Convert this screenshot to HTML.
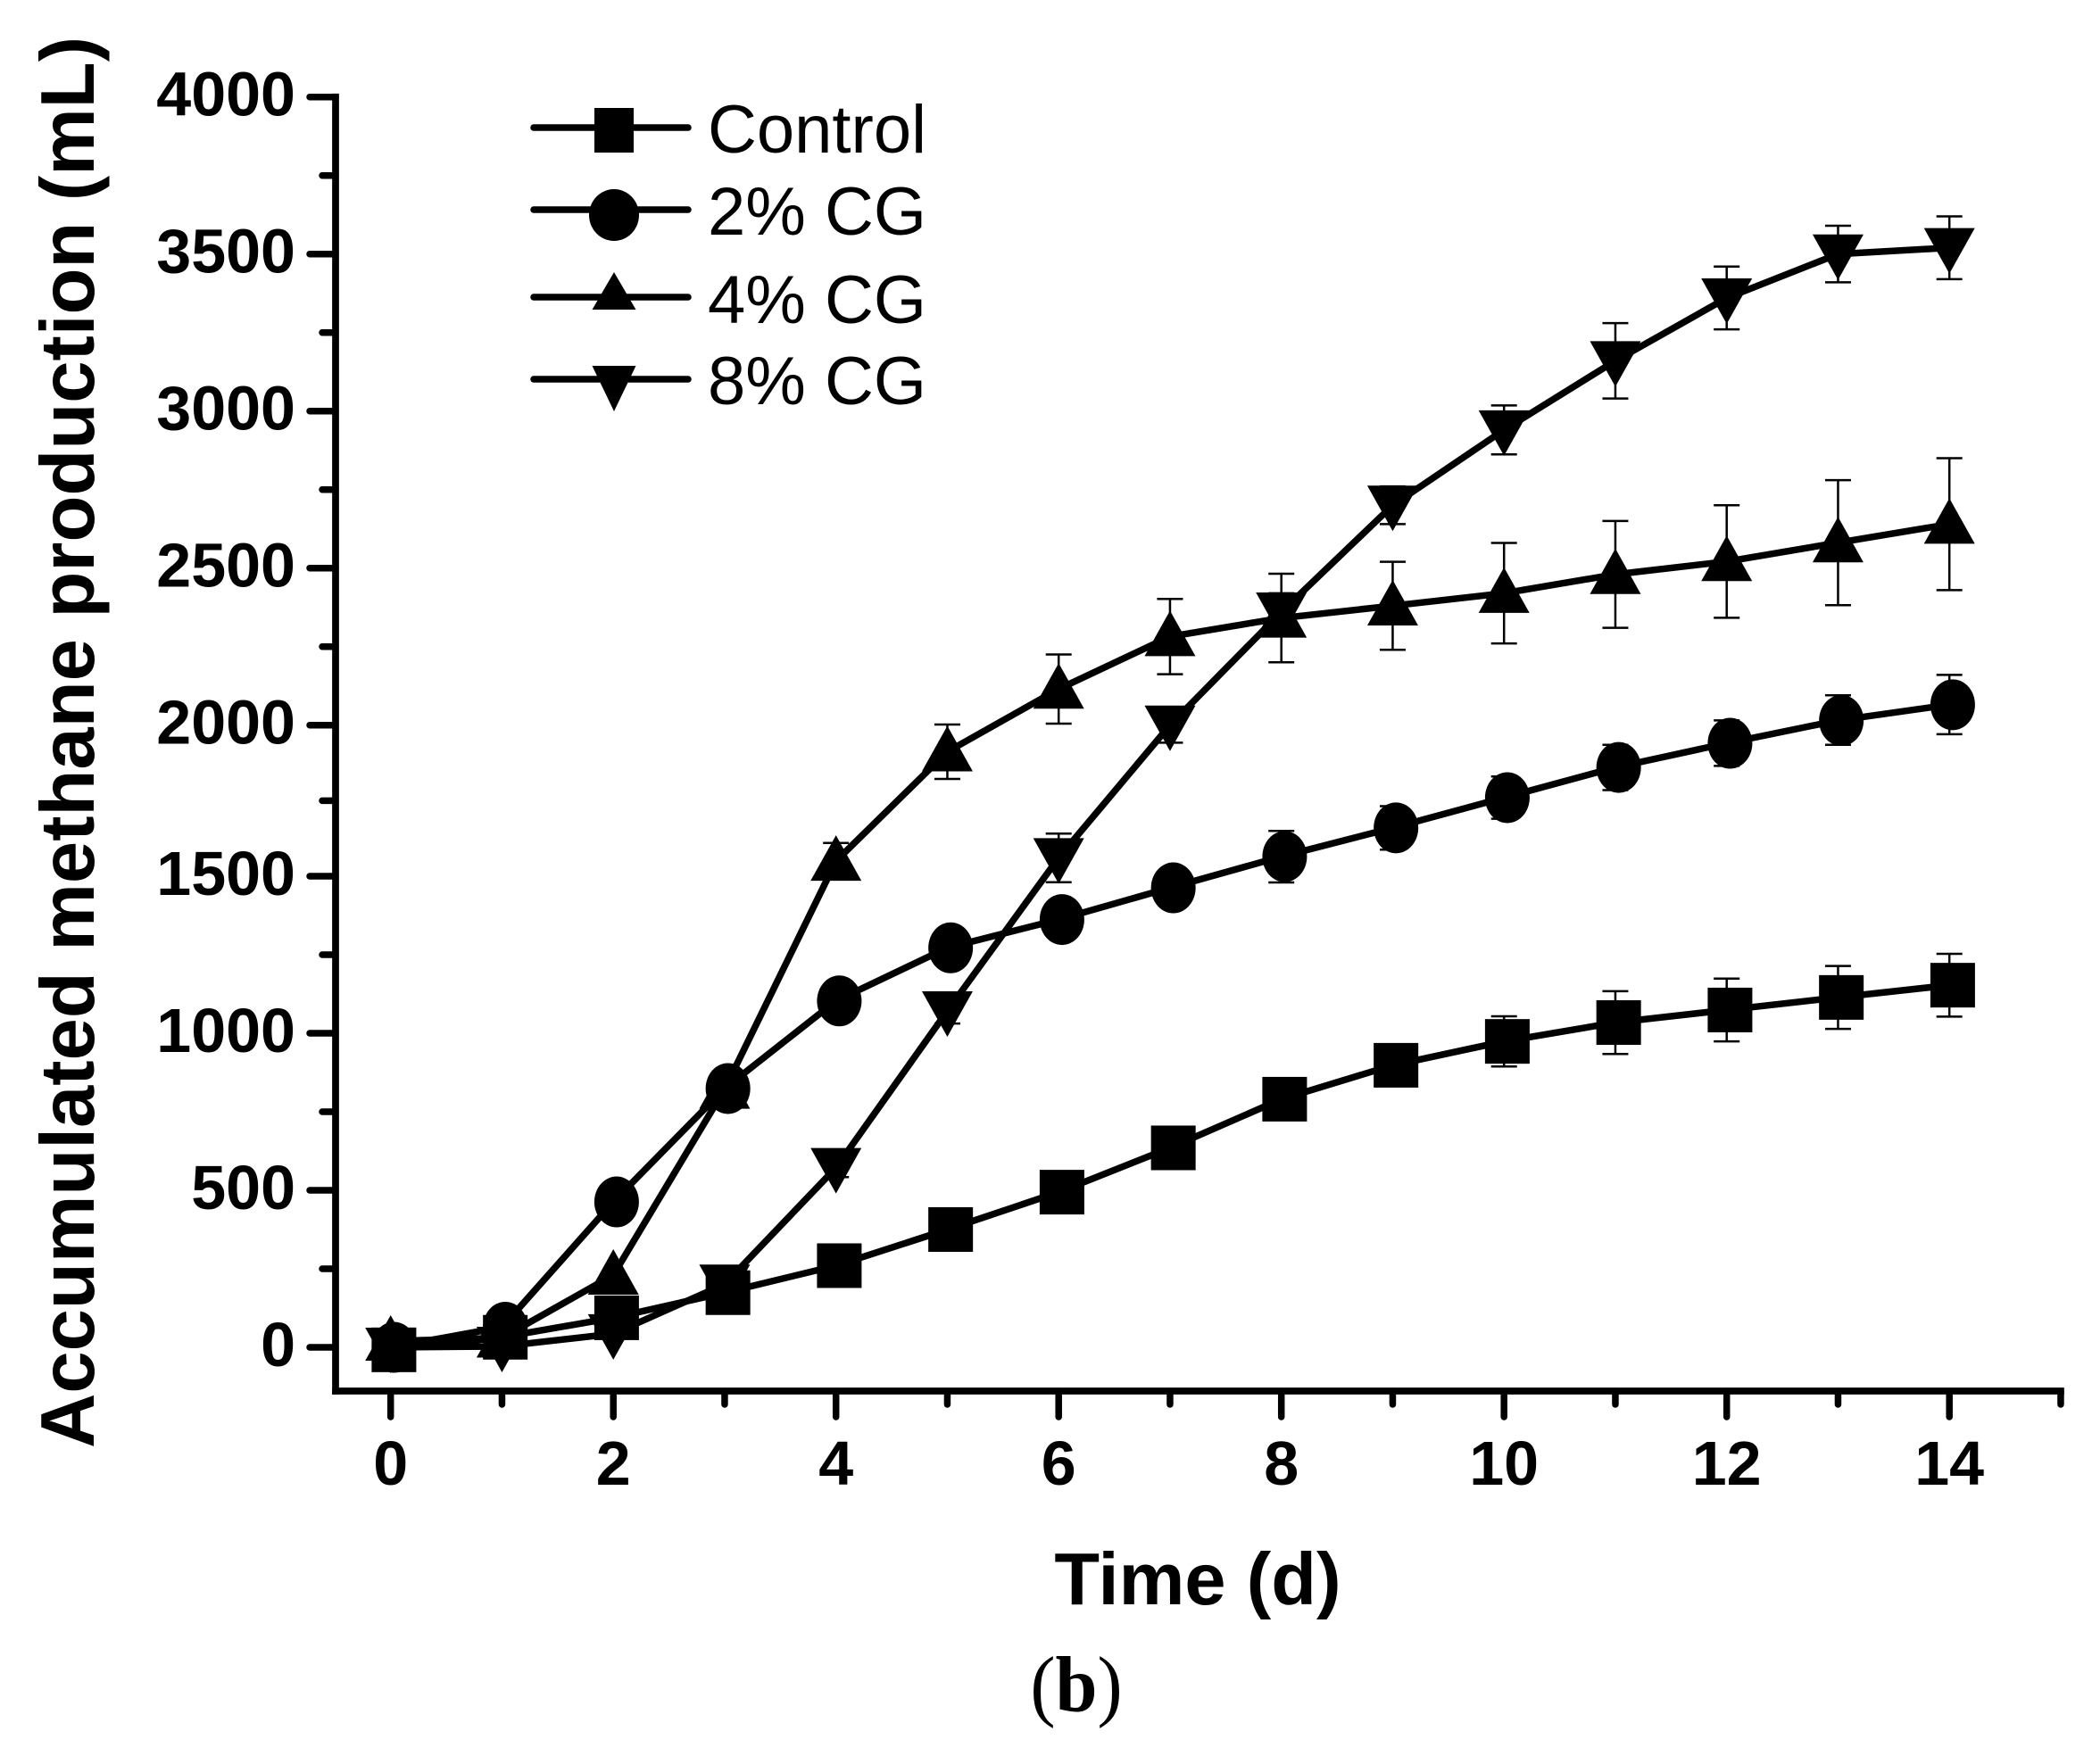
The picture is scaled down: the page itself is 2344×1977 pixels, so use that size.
<!DOCTYPE html>
<html lang="en">
<head>
<meta charset="utf-8">
<title>Accumulated methane production</title>
<style>
html,body{margin:0;padding:0;background:#fff;}
svg{display:block;}
text{fill:#000;font-family:"Liberation Sans",sans-serif;}
</style>
</head>
<body>
<svg id="chart" xmlns="http://www.w3.org/2000/svg" width="2344" height="1977" viewBox="0 0 2344 1977">
  <rect x="0" y="0" width="2344" height="1977" fill="#fff"/>
  <g id="axes"></g>
  <g id="plot"></g>
  <g id="legend"></g>
  <text transform="translate(105,832) rotate(-90)" text-anchor="middle" font-size="85" font-weight="700">Accumulated methane production (mL)</text>
  <text x="1342" y="1798" text-anchor="middle" font-size="83" font-weight="700">Time (d)</text>
  <text transform="translate(1206,1918) scale(0.95,1)" text-anchor="middle" font-size="89" style="font-family:'Liberation Serif',serif">(<tspan font-weight="700">b</tspan>)</text>
</svg>
<script>
const days = [0,1,2,3,4,5,6,7,8,9,10,11,12,13,14];
const xTickLabels = [0,2,4,6,8,10,12,14];
const yTickLabels = [0,500,1000,1500,2000,2500,3000,3500,4000];
const legendLabels = ['Control','2% CG','4% CG','8% CG'];

const controlValues = [-8,32,94,174,260,375,494,635,790,898,974,1034,1074,1114,1153];
const cg2Values = [0,64,463,824,1103,1272,1362,1463,1565,1660,1760,1860,1940,2015,2065];
const cg4Values = [20,30,230,822,1550,1912,2115,2282,2341,2380,2420,2480,2521,2581,2640];
const cg8Values = [0,3,43,201,572,1071,1561,2000,2360,2700,2940,3160,3360,3500,3520];

const controlErrors = [0,0,0,0,0,0,0,30,30,50,80,100,100,100,100];
const cg2Errors = [0,0,0,0,0,0,0,40,85,72,70,75,75,80,95];
const cg4Errors = [0,0,0,0,60,90,110,120,141,140,160,170,179,199,210];
const cg8Errors = [0,0,0,0,30,40,80,58,60,60,78,120,100,90,100];

const NS = 'http://www.w3.org/2000/svg';
const axX = 376, axY = 1559;
function xScale(d){ return 437.7 + d * 124.75; }
function yScale(v){
  const ramp = Math.max(0, Math.min(1, (v - 1500) / 500));
  return 1510 - v * 0.352 + 6.7 * ramp;
}

function make(tag, attrs, parent){
  const el = document.createElementNS(NS, tag);
  for (const k in attrs) el.setAttribute(k, attrs[k]);
  parent.appendChild(el);
  return el;
}

function marker(kind, cx, cy, parent){
  if (kind === 'square') {
    return make('rect', {x: cx + 3.7 - 25, y: cy - 25, width: 50, height: 50, fill: '#000'}, parent);
  }
  if (kind === 'circle') {
    return make('ellipse', {cx: cx + 3.7, cy: cy, rx: 25, ry: 28.5, fill: '#000'}, parent);
  }
  if (kind === 'up') {
    return make('polygon', {points: [cx,cy-29, cx+28.5,cy+22, cx-28.5,cy+22].join(' '), fill: '#000'}, parent);
  }
  return make('polygon', {points: [cx-28.5,cy-22, cx+28.5,cy-22, cx,cy+29].join(' '), fill: '#000'}, parent);
}

function legendMarker(kind, cx, cy, parent){
  if (kind === 'square') {
    return make('rect', {x: cx - 22, y: cy - 22, width: 44, height: 50, fill: '#000'}, parent);
  }
  if (kind === 'circle') {
    return make('ellipse', {cx: cx, cy: cy + 6, rx: 28, ry: 29, fill: '#000'}, parent);
  }
  if (kind === 'up') {
    return make('polygon', {points: [cx,cy-28, cx+24.5,cy+14, cx-24.5,cy+14].join(' '), fill: '#000'}, parent);
  }
  return make('polygon', {points: [cx-24.5,cy-15, cx+24.5,cy-15, cx,cy+36].join(' '), fill: '#000'}, parent);
}

const axes = document.getElementById('axes');
const yLine = make('line', {x1: axX, y1: yScale(4000), x2: axX, y2: axY, stroke: '#000', 'stroke-width': 7.7, 'stroke-linecap': 'square'}, axes);


const xLine = make('line', {x1: axX, y1: axY, x2: xScale(15), y2: axY, stroke: '#000', 'stroke-width': 7.7, 'stroke-linecap': 'square'}, axes);



for (let d = 0; d <= 15; d++) {
  const major = d % 2 === 0;
  const len = major ? 29 : 15;
  const t = make('line', {x1: xScale(d), y1: axY, x2: xScale(d), y2: axY + len, stroke: '#000', 'stroke-width': 7.5, 'stroke-linecap': 'round'}, axes);
  
  
}
xTickLabels.forEach(function(v){
  const t = make('text', {x: xScale(v), y: 1664, 'text-anchor': 'middle', 'font-size': 70, 'font-weight': 700}, axes);
  t.textContent = v;
  
  
});
for (let v = 0; v <= 4000; v += 250) {
  const major = v % 500 === 0;
  const len = major ? 29 : 15;
  const t = make('line', {x1: axX, y1: yScale(v), x2: axX - len, y2: yScale(v), stroke: '#000', 'stroke-width': 7.5, 'stroke-linecap': 'round'}, axes);
  
  
}
yTickLabels.forEach(function(v){
  const t = make('text', {x: 331, y: yScale(v) + 21, 'text-anchor': 'end', 'font-size': 70, 'font-weight': 700}, axes);
  t.textContent = v;
  
  
});

const plot = document.getElementById('plot');
function drawSeries(name, kind, values, errors){
  const g = make('g', {}, plot);
  
  
  days.forEach(function(d, i){
    if (!errors[i]) return;
    const x = xScale(d), hi = yScale(values[i] + errors[i]), lo = yScale(values[i] - errors[i]);
    const e = make('path', {d: 'M' + x + ' ' + hi + 'V' + lo + 'M' + (x-14.5) + ' ' + hi + 'H' + (x+14.5) + 'M' + (x-14.5) + ' ' + lo + 'H' + (x+14.5), stroke: '#000', 'stroke-width': 2.5, fill: 'none'}, g);
    
    
  });
  const pts = days.map(function(d, i){ return xScale(d) + ',' + yScale(values[i]); }).join(' ');
  const line = make('polyline', {points: pts, fill: 'none', stroke: '#000', 'stroke-width': 7.5, 'stroke-linejoin': 'round'}, g);
  
  
  days.forEach(function(d, i){
    const m = marker(kind, xScale(d), yScale(values[i]), g);
    
    
  });
}
drawSeries('cg8', 'down', cg8Values, cg8Errors);
drawSeries('cg4', 'up', cg4Values, cg4Errors);
drawSeries('cg2', 'circle', cg2Values, cg2Errors);
drawSeries('control', 'square', controlValues, controlErrors);

const legend = document.getElementById('legend');
const legendKinds = ['square','circle','up','down'];
const legendRowY = [143, 235, 333, 425];
const legendBaselines = [171, 263, 362, 453];
legendLabels.forEach(function(label, i){
  const y = legendRowY[i];
  const row = make('g', {}, legend);
  
  
  const keyLine = make('line', {x1: 598, y1: y, x2: 771, y2: y, stroke: '#000', 'stroke-width': 7.5, 'stroke-linecap': 'round'}, row);
  
  
  const keyMark = legendMarker(legendKinds[i], 688, y, row);
  
  
  const t = make('text', {x: 793, y: legendBaselines[i], 'font-size': 76}, row);
  t.textContent = label;
  
  
});
</script>
</body>
</html>
